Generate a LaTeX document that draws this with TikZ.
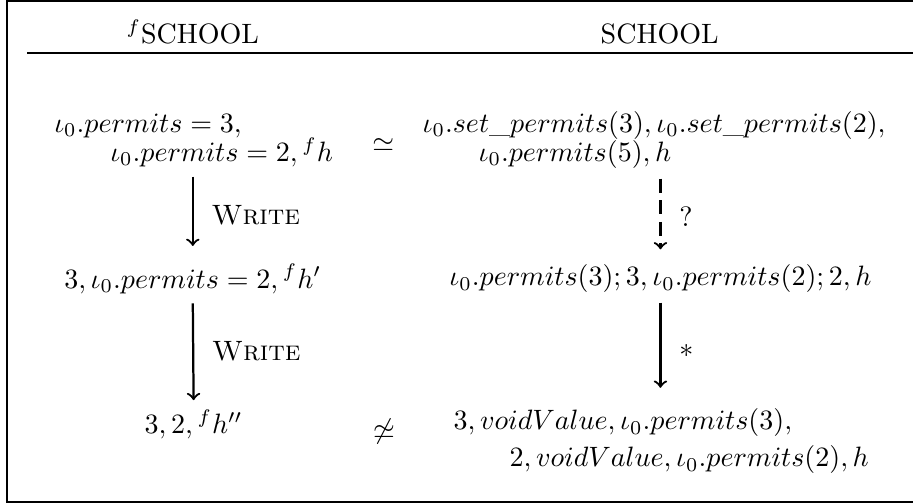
\documentclass[tikz,border=0pt]{standalone}
\usepackage{amsmath}
\usepackage{amssymb}
\usepackage{tikz}
\usetikzlibrary{positioning,arrows,calc}

\begin{document}
\begin{tikzpicture}
    \useasboundingbox (0,0) rectangle (11.46,-6.326);
    % frame and header rule
    \draw (11.46,-0.0126) -- (0.088,-0.0126) -- (0.088,-6.301) -- (11.46,-6.301);
    \draw (0.339,-0.665) -- (11.46,-0.665);
    \node[anchor=base] (fschool) at (2.42,-0.552) {$^f$SCHOOL};
    \node[anchor=base] (school) at (8.28,-0.552) {SCHOOL};
    % left column
    \node[align=left] (f1) at (2.43,-1.76) {$\iota_0.permits = 3,$\\[-1.6pt]\hspace{2em}$\iota_0.permits = 2, {}^fh$};
    \node (f2) at (2.42,-3.50) {$3, \iota_0.permits = 2, {}^fh'$};
    \node (f3) at (2.43,-5.33) {$3, 2, {}^fh''$};
    % right column
    \node[align=left] (s1) at (8.21,-1.76) {$\iota_0.set\_permits(3), \iota_0.set\_permits(2),$\\[-1.6pt]\hspace{2em}$\iota_0.permits(5), h$};
    \node (s2) at (8.29,-3.50) {$\iota_0.permits(3); 3, \iota_0.permits(2); 2, h$};
    \node[align=left] (s3) at (8.30,-5.54) {$3, voidValue, \iota_0.permits(3),$\\[1.2pt]\hspace{2em}$2, voidValue, \iota_0.permits(2), h$};
    % relations
    \node (sim) at (4.81,-1.82) {$\simeq$};
    \node (nsim) at (4.82,-5.42) {$\not\simeq$};
    % steps
    \draw[->, thick, shorten >=3pt] (f1.south -| f2) -- (f2.north) node[midway, right=3pt] {\textsc{Write}};
    \draw[->, thick] (f2.south) -- (f3.north) node[midway, right=3pt] {\textsc{Write}};
    \draw[->, thick, dash pattern=on 5pt off 2.7pt, shorten >=2pt] (s1.south -| s2) -- (s2.north) node[midway, right=3pt] {$?$};
    \draw[->, thick, shorten >=4pt] (s2.south) -- (s3.north -| s2) node[midway, right=3pt] {$*$};
\end{tikzpicture}
\end{document}
